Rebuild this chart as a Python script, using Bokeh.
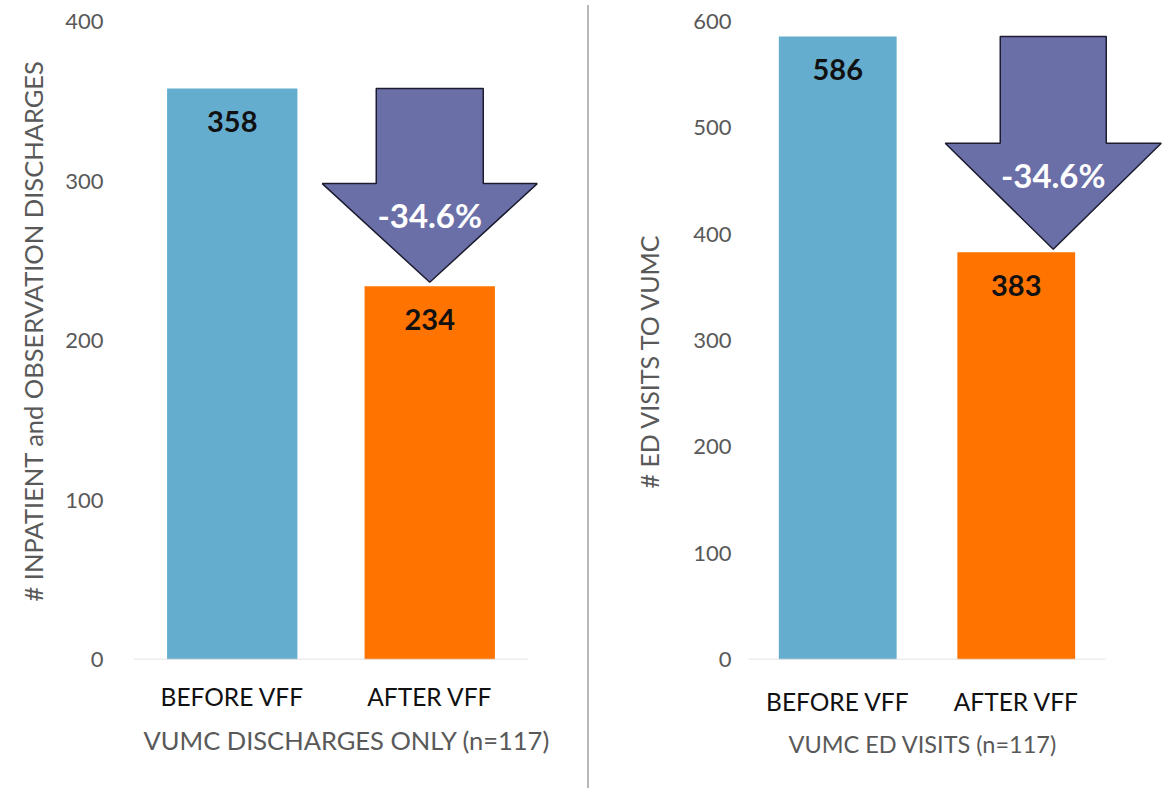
from bokeh.plotting import figure
from bokeh.models import Range1d, FixedTicker, Div, Title
from bokeh.layouts import row
from bokeh.core.properties import value
from bokeh.embed import file_html
from bokeh.resources import INLINE

# ---------------- data ----------------
categories = ["BEFORE VFF", "AFTER VFF"]
discharges = [358, 234]
ed_visits = [586, 383]
left_yticks = [0, 100, 200, 300, 400]
right_yticks = [0, 100, 200, 300, 400, 500, 600]
left_ylabel = "# INPATIENT and OBSERVATION DISCHARGES"
right_ylabel = "# ED VISITS TO VUMC"
left_xlabel = "VUMC DISCHARGES ONLY (n=117)"
right_xlabel = "VUMC ED VISITS (n=117)"

BLUE = "#65adcf"
ORANGE = "#ff7300"
PURPLE = "#6b6fa8"
GRAY = "#595959"
FONT = "Lato"


def build(vals, yticks, ylabel, xlabel, fig_w, frame_left, core_w, frame_w,
          frame_top, frame_bottom, ystand, arrow_shift_px, shaft_half_px,
          head_half_px, head_len_px, tip_gap_px, cat_standoff, title_standoff,
          cat_size, ytitle_size, xtitle_size, ytitle_standoff,
          ytitle_offset, xtitle_offset):
    H = 788
    n = len(vals)
    ppu_x = core_w / n
    x_end = frame_w / ppu_x
    ymax = yticks[-1]
    ppu_y = (frame_bottom - frame_top) / ymax
    p = figure(width=fig_w, height=H, output_backend="svg", toolbar_location=None,
               x_range=Range1d(0, x_end), y_range=Range1d(0, ymax),
               min_border_left=frame_left, min_border_right=fig_w - frame_left - frame_w,
               min_border_top=frame_top, min_border_bottom=H - frame_bottom)
    p.outline_line_color = None
    p.grid.visible = False
    p.background_fill_color = "white"
    p.border_fill_color = "white"

    xs = [i + 0.5 for i in range(n)]
    colors = [BLUE, ORANGE]
    p.vbar(x=xs, top=vals, width=0.66, fill_color=colors, line_color=None)
    # baseline
    p.segment(x0=[0], y0=[0], x1=[n], y1=[0], line_color="#d9d9d9", line_width=1.5)

    # value labels inside bars
    p.text(x=xs, y=vals, text=[str(v) for v in vals], text_align="center",
           text_baseline="middle", y_offset=33, text_font=value(FONT),
           text_font_style="bold", text_font_size="29px", text_color="#111111")

    # arrow from before to after
    b, a = vals[0], vals[1]
    xc = xs[1] + arrow_shift_px / ppu_x
    sw = shaft_half_px / ppu_x
    hw = head_half_px / ppu_x
    tip = a + tip_gap_px / ppu_y
    hb = tip + head_len_px / ppu_y
    ax = [xc - sw, xc + sw, xc + sw, xc + hw, xc, xc - hw, xc - sw]
    ay = [b, b, hb, hb, tip, hb, hb]
    p.patch(ax, ay, fill_color=PURPLE, line_color="#1c1c30", line_width=1.5)
    pct = (a - b) / b * 100
    p.text(x=[xc], y=[hb - 32 / ppu_y], text=[f"{pct:.1f}%"], text_align="center",
           text_baseline="middle", text_font=value(FONT), text_font_style="bold",
           text_font_size="33px", text_color="white")

    # axes
    ya = p.yaxis[0]
    ya.ticker = FixedTicker(ticks=yticks)
    ya.axis_line_color = None
    ya.major_tick_line_color = None
    ya.minor_tick_line_color = None
    ya.major_label_standoff = ystand
    ya.major_label_text_font = FONT
    ya.major_label_text_font_size = "22px"
    ya.major_label_text_color = GRAY

    xa = p.xaxis[0]
    xa.ticker = FixedTicker(ticks=xs)
    xa.major_label_overrides = {x: c for x, c in zip(xs, categories)}
    xa.axis_line_color = None
    xa.major_tick_line_color = None
    xa.minor_tick_line_color = None
    xa.major_label_standoff = cat_standoff
    xa.major_label_text_font = FONT
    xa.major_label_text_font_size = cat_size
    xa.major_label_text_color = "#111111"

    # axis titles as side titles, started at an offset from the frame edge
    p.add_layout(Title(text=ylabel, align="left", offset=ytitle_offset,
                       standoff=ytitle_standoff, text_font=FONT,
                       text_font_size=ytitle_size, text_font_style="normal",
                       text_color=GRAY), "left")
    p.add_layout(Title(text=xlabel, align="left", offset=xtitle_offset,
                       standoff=title_standoff, text_font=FONT,
                       text_font_size=xtitle_size, text_font_style="normal",
                       text_color=GRAY), "below")
    return p


left = build(discharges, left_yticks, left_ylabel, left_xlabel,
             fig_w=587, frame_left=133, core_w=395, frame_w=412,
             frame_top=20, frame_bottom=660, ystand=24, arrow_shift_px=0,
             shaft_half_px=53.5, head_half_px=107.5, head_len_px=99, tip_gap_px=4,
             cat_standoff=16, title_standoff=19,
             cat_size="24.5px", ytitle_size="25.5px", xtitle_size="25.5px",
             ytitle_standoff=30, ytitle_offset=58, xtitle_offset=10)

right = build(ed_visits, right_yticks, right_ylabel, right_xlabel,
              fig_w=580, frame_left=159, core_w=357, frame_w=414,
              frame_top=21, frame_bottom=659, ystand=11, arrow_shift_px=37,
              shaft_half_px=53, head_half_px=108, head_len_px=106, tip_gap_px=3,
              cat_standoff=21, title_standoff=19,
              cat_size="24.5px", ytitle_size="25px", xtitle_size="23.5px",
              ytitle_standoff=53, ytitle_offset=171, xtitle_offset=40)

divider = Div(text="", width=2, height=783, margin=(5, 0, 0, 0),
              styles={"background-color": "#b8b8b8"})

layout = row(left, divider, right)
open("out.html", "w").write(file_html(layout, INLINE))
